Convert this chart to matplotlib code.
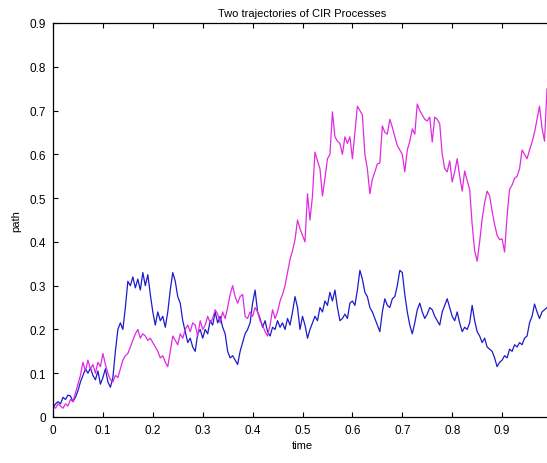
import numpy as np
import matplotlib
matplotlib.use("Agg")
import matplotlib.pyplot as plt

plt.rcParams["font.family"] = ["Liberation Sans", "DejaVu Sans"]

blue_path = [
    0.020, 0.030, 0.035, 0.030, 0.045, 0.040, 0.050, 0.048, 0.035, 0.045,
    0.060, 0.080, 0.095, 0.110, 0.100, 0.112, 0.095, 0.085, 0.105, 0.075,
    0.090, 0.110, 0.080, 0.068, 0.090, 0.150, 0.200, 0.215, 0.200, 0.250,
    0.310, 0.300, 0.320, 0.295, 0.315, 0.290, 0.330, 0.300, 0.325, 0.280,
    0.240, 0.210, 0.240, 0.220, 0.230, 0.205, 0.240, 0.290, 0.330, 0.310,
    0.275, 0.260, 0.220, 0.195, 0.170, 0.180, 0.160, 0.150, 0.190, 0.200,
    0.180, 0.200, 0.190, 0.220, 0.210, 0.240, 0.215, 0.230, 0.205, 0.190,
    0.150, 0.135, 0.140, 0.130, 0.120, 0.150, 0.170, 0.190, 0.200, 0.215,
    0.260, 0.290, 0.240, 0.225, 0.205, 0.220, 0.195, 0.185, 0.205, 0.200,
    0.220, 0.205, 0.215, 0.200, 0.225, 0.210, 0.240, 0.275, 0.250, 0.200,
    0.230, 0.210, 0.180, 0.200, 0.215, 0.230, 0.220, 0.250, 0.240, 0.265,
    0.255, 0.285, 0.265, 0.290, 0.250, 0.220, 0.225, 0.235, 0.225, 0.260,
    0.265, 0.255, 0.290, 0.335, 0.315, 0.285, 0.275, 0.250, 0.240, 0.225,
    0.210, 0.195, 0.240, 0.270, 0.255, 0.250, 0.270, 0.275, 0.300, 0.335,
    0.330, 0.280, 0.240, 0.210, 0.190, 0.215, 0.245, 0.260, 0.240, 0.225,
    0.235, 0.250, 0.245, 0.230, 0.220, 0.210, 0.240, 0.255, 0.270, 0.250,
    0.230, 0.220, 0.240, 0.215, 0.195, 0.205, 0.200, 0.215, 0.255, 0.220,
    0.195, 0.185, 0.170, 0.180, 0.160, 0.155, 0.150, 0.135, 0.115, 0.125,
    0.130, 0.140, 0.135, 0.155, 0.150, 0.165, 0.160, 0.170, 0.165, 0.180,
    0.185, 0.215, 0.230, 0.258, 0.240, 0.225, 0.240, 0.245, 0.250, 0.240,
    0.255,
]

magenta_path = [
    0.025, 0.020, 0.030, 0.025, 0.020, 0.030, 0.025, 0.040, 0.035, 0.055,
    0.075, 0.095, 0.125, 0.105, 0.130, 0.110, 0.120, 0.100, 0.125, 0.115,
    0.145, 0.120, 0.100, 0.085, 0.080, 0.095, 0.090, 0.110, 0.130, 0.140,
    0.145, 0.160, 0.175, 0.190, 0.200, 0.180, 0.190, 0.185, 0.175, 0.180,
    0.170, 0.160, 0.150, 0.135, 0.140, 0.125, 0.115, 0.150, 0.185, 0.175,
    0.165, 0.190, 0.180, 0.200, 0.210, 0.195, 0.215, 0.210, 0.185, 0.220,
    0.200, 0.210, 0.230, 0.215, 0.225, 0.245, 0.235, 0.215, 0.240, 0.225,
    0.250, 0.280, 0.300, 0.275, 0.260, 0.275, 0.280, 0.230, 0.225, 0.240,
    0.230, 0.250, 0.240, 0.220, 0.210, 0.195, 0.185, 0.210, 0.245, 0.225,
    0.240, 0.265, 0.280, 0.300, 0.330, 0.360, 0.380, 0.405, 0.450, 0.430,
    0.415, 0.400, 0.510, 0.450, 0.505, 0.605, 0.585, 0.567, 0.505, 0.545,
    0.590, 0.600, 0.697, 0.640, 0.630, 0.625, 0.600, 0.640, 0.625, 0.640,
    0.590, 0.650, 0.710, 0.700, 0.690, 0.600, 0.567, 0.510, 0.543, 0.560,
    0.578, 0.580, 0.665, 0.650, 0.646, 0.680, 0.662, 0.640, 0.620, 0.610,
    0.600, 0.560, 0.610, 0.630, 0.658, 0.646, 0.715, 0.700, 0.690, 0.680,
    0.676, 0.685, 0.628, 0.685, 0.680, 0.670, 0.600, 0.567, 0.560, 0.585,
    0.537, 0.560, 0.590, 0.550, 0.516, 0.562, 0.540, 0.520, 0.440, 0.380,
    0.356, 0.400, 0.452, 0.490, 0.516, 0.505, 0.470, 0.440, 0.415, 0.405,
    0.407, 0.377, 0.460, 0.520, 0.530, 0.545, 0.550, 0.567, 0.610, 0.600,
    0.590, 0.610, 0.628, 0.650, 0.680, 0.710, 0.660, 0.630, 0.750, 0.700,
    0.720,
]

x_ticks = [0, 0.1, 0.2, 0.3, 0.4, 0.5, 0.6, 0.7, 0.8, 0.9]
x_tick_labels = ["0", "0.1", "0.2", "0.3", "0.4", "0.5", "0.6", "0.7", "0.8", "0.9"]
y_ticks = [0, 0.1, 0.2, 0.3, 0.4, 0.5, 0.6, 0.7, 0.8, 0.9]
y_tick_labels = ["0", "0.1", "0.2", "0.3", "0.4", "0.5", "0.6", "0.7", "0.8", "0.9"]

t_blue = np.linspace(0, 1, len(blue_path))
t_mag = np.linspace(0, 1, len(magenta_path))

fig = plt.figure(figsize=(5.47, 4.64), dpi=100)
# axes run a little past the right edge, like the cropped original
ax = fig.add_axes([53 / 547, 46 / 464, 499 / 547, 394 / 464])

ax.plot(t_blue, blue_path, color="#1c1cc8", linewidth=0.9)
ax.plot(t_mag, magenta_path, color="#e02ae0", linewidth=0.9)

ax.set_xlim(0, 1)
ax.set_ylim(0, 0.9)
ax.set_xticks(x_ticks)
ax.set_xticklabels(x_tick_labels)
ax.set_yticks(y_ticks)
ax.set_yticklabels(y_tick_labels)
ax.tick_params(direction="in", length=3.5, width=0.8, top=True, right=True,
               labelsize=8.5, pad=5)
for sp in ax.spines.values():
    sp.set_linewidth(0.9)

ax.set_title("Two trajectories of CIR Processes", fontsize=8, pad=5)
ax.set_xlabel("time", fontsize=8, labelpad=3)
ax.set_ylabel("path", fontsize=8, labelpad=6)

fig.savefig("out.png", dpi=100)
